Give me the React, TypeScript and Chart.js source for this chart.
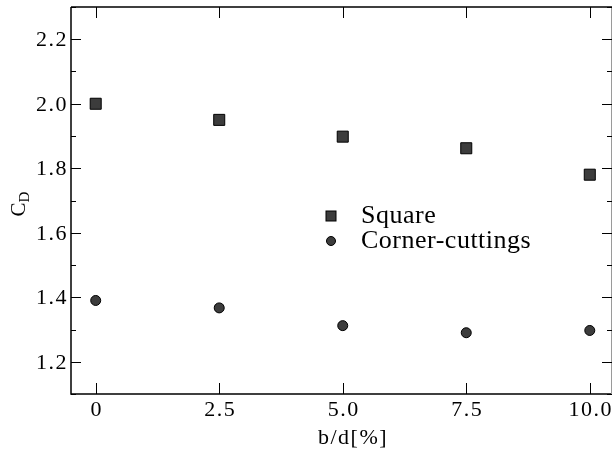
import React, { useEffect, useRef } from 'react';
import { Chart, registerables } from 'chart.js';
Chart.register(...registerables);

const xValues = [0, 2.5, 5.0, 7.5, 10.0];
const squareValues = [2.0, 1.95, 1.898, 1.862, 1.78];
const cornerValues = [1.39, 1.367, 1.312, 1.29, 1.297];
const xTicks = [0, 2.5, 5.0, 7.5, 10.0];
const xTickLabels = ['0', '2.5', '5.0', '7.5', '10.0'];
const yTicks = [1.2, 1.4, 1.6, 1.8, 2.0, 2.2];
const yTickLabels = ['1.2', '1.4', '1.6', '1.8', '2.0', '2.2'];
const yMinorTicks = [1.1, 1.3, 1.5, 1.7, 1.9, 2.1, 2.3];
const seriesLabels = ['Square', 'Corner-cuttings'];
const xTitle = 'b/d[%]';
const yTitleMain = 'C';
const yTitleSub = 'D';

const FONT = '"Liberation Serif", "DejaVu Serif", serif';
const MARK_FILL = '#3c3c3c';

const framePlugin = {
  id: 'frame',
  afterDraw(chart: any) {
    const ctx = chart.ctx as CanvasRenderingContext2D;
    const a = chart.chartArea;
    const xs = chart.scales.x;
    const ys = chart.scales.y;
    ctx.save();
    // borders
    ctx.strokeStyle = '#000';
    ctx.lineWidth = 1.5;
    ctx.beginPath();
    ctx.moveTo(a.left, a.top);
    ctx.lineTo(a.left, a.bottom);
    ctx.lineTo(a.right, a.bottom);
    ctx.moveTo(a.left, a.top);
    ctx.lineTo(a.right, a.top);
    ctx.stroke();
    ctx.strokeStyle = '#9a9a9a';
    ctx.lineWidth = 1;
    ctx.beginPath();
    ctx.moveTo(a.right - 0.5, a.top);
    ctx.lineTo(a.right - 0.5, a.bottom);
    ctx.stroke();
    // ticks
    ctx.strokeStyle = '#000';
    ctx.lineWidth = 1;
    ctx.beginPath();
    for (const v of xTicks) {
      const px = Math.round(xs.getPixelForValue(v)) + 0.5;
      ctx.moveTo(px, a.bottom);
      ctx.lineTo(px, a.bottom - 11);
      ctx.moveTo(px, a.top);
      ctx.lineTo(px, a.top + 11);
    }
    for (const v of yTicks) {
      const py = Math.round(ys.getPixelForValue(v)) + 0.5;
      ctx.moveTo(a.left, py);
      ctx.lineTo(a.left + 10, py);
      ctx.moveTo(a.right, py);
      ctx.lineTo(a.right - 10, py);
    }
    for (const v of yMinorTicks) {
      const py = Math.round(ys.getPixelForValue(v)) + 0.5;
      ctx.moveTo(a.left, py);
      ctx.lineTo(a.left + 5, py);
      ctx.moveTo(a.right, py);
      ctx.lineTo(a.right - 5, py);
    }
    ctx.stroke();

    // tick labels
    const c2 = ctx as any;
    ctx.fillStyle = '#000';
    ctx.font = `22px ${FONT}`;
    c2.letterSpacing = '1.5px';
    ctx.textAlign = 'right';
    ctx.textBaseline = 'middle';
    yTicks.forEach((v, i) => {
      ctx.fillText(yTickLabels[i], a.left - 3, ys.getPixelForValue(v) + 1);
    });
    ctx.textAlign = 'center';
    xTicks.forEach((v, i) => {
      ctx.fillText(xTickLabels[i], xs.getPixelForValue(v) + 1, a.bottom + 16);
    });

    // x title
    ctx.fillText(xTitle, 353, 438);

    // legend
    const lx = 331;
    const ly1 = 216;
    const ly2 = 241;
    ctx.fillStyle = MARK_FILL;
    ctx.strokeStyle = '#000';
    ctx.lineWidth = 1;
    ctx.fillRect(lx - 5, ly1 - 5, 10, 10);
    ctx.strokeRect(lx - 5, ly1 - 5, 10, 10);
    ctx.beginPath();
    ctx.arc(lx, ly2, 4.5, 0, Math.PI * 2);
    ctx.fill();
    ctx.stroke();
    ctx.fillStyle = '#000';
    ctx.font = `26px ${FONT}`;
    c2.letterSpacing = '0.5px';
    ctx.textAlign = 'left';
    ctx.textBaseline = 'middle';
    ctx.fillText(seriesLabels[0], 361, ly1);
    ctx.fillText(seriesLabels[1], 361, ly2);
    c2.letterSpacing = '0px';

    // y title with subscript
    ctx.translate(18, 204);
    ctx.rotate(-Math.PI / 2);
    ctx.textAlign = 'left';
    ctx.textBaseline = 'alphabetic';
    ctx.font = `21px ${FONT}`;
    const wC = ctx.measureText(yTitleMain).width;
    ctx.font = `15px ${FONT}`;
    const wD = ctx.measureText(yTitleSub).width;
    const start = -(wC + wD) / 2;
    ctx.font = `21px ${FONT}`;
    ctx.fillText(yTitleMain, start, 7);
    ctx.font = `15px ${FONT}`;
    ctx.fillText(yTitleSub, start + wC, 11);
    ctx.restore();
  },
};

export default function App() {
  const ref = useRef<HTMLCanvasElement | null>(null);
  useEffect(() => {
    document.body.style.margin = '0';
    const canvas = ref.current;
    if (!canvas) return;
    const chart = new Chart(canvas, {
      type: 'scatter',
      data: {
        datasets: [
          {
            label: seriesLabels[0],
            data: xValues.map((x, i) => ({ x, y: squareValues[i] })),
            pointStyle: 'rect',
            pointRadius: 7.8,
            backgroundColor: MARK_FILL,
            borderColor: '#000',
            borderWidth: 1,
          },
          {
            label: seriesLabels[1],
            data: xValues.map((x, i) => ({ x, y: cornerValues[i] })),
            pointStyle: 'circle',
            pointRadius: 5,
            backgroundColor: MARK_FILL,
            borderColor: '#000',
            borderWidth: 1,
          },
        ],
      },
      options: {
        animation: false,
        responsive: false,
        maintainAspectRatio: false,
        layout: { autoPadding: false, padding: { left: 0, top: 7, right: 2, bottom: 0 } },
        plugins: {
          legend: { display: false },
          tooltip: { enabled: false },
        },
        scales: {
          x: {
            type: 'linear',
            min: -0.5,
            max: 10.45,
            grid: { display: false, drawTicks: false },
            border: { display: false },
            ticks: { display: false },
            afterFit: (s: any) => {
              s.height = 58;
              s.paddingLeft = 0;
              s.paddingRight = 0;
            },
          },
          y: {
            type: 'linear',
            min: 1.1,
            max: 2.3,
            grid: { display: false, drawTicks: false },
            border: { display: false },
            ticks: { display: false },
            afterFit: (s: any) => {
              s.width = 71;
              s.paddingTop = 0;
              s.paddingBottom = 0;
            },
          },
        },
      },
      plugins: [framePlugin],
    });
    return () => chart.destroy();
  }, []);
  return <canvas ref={ref} width={614} height={452} style={{ display: 'block' }} />;
}
